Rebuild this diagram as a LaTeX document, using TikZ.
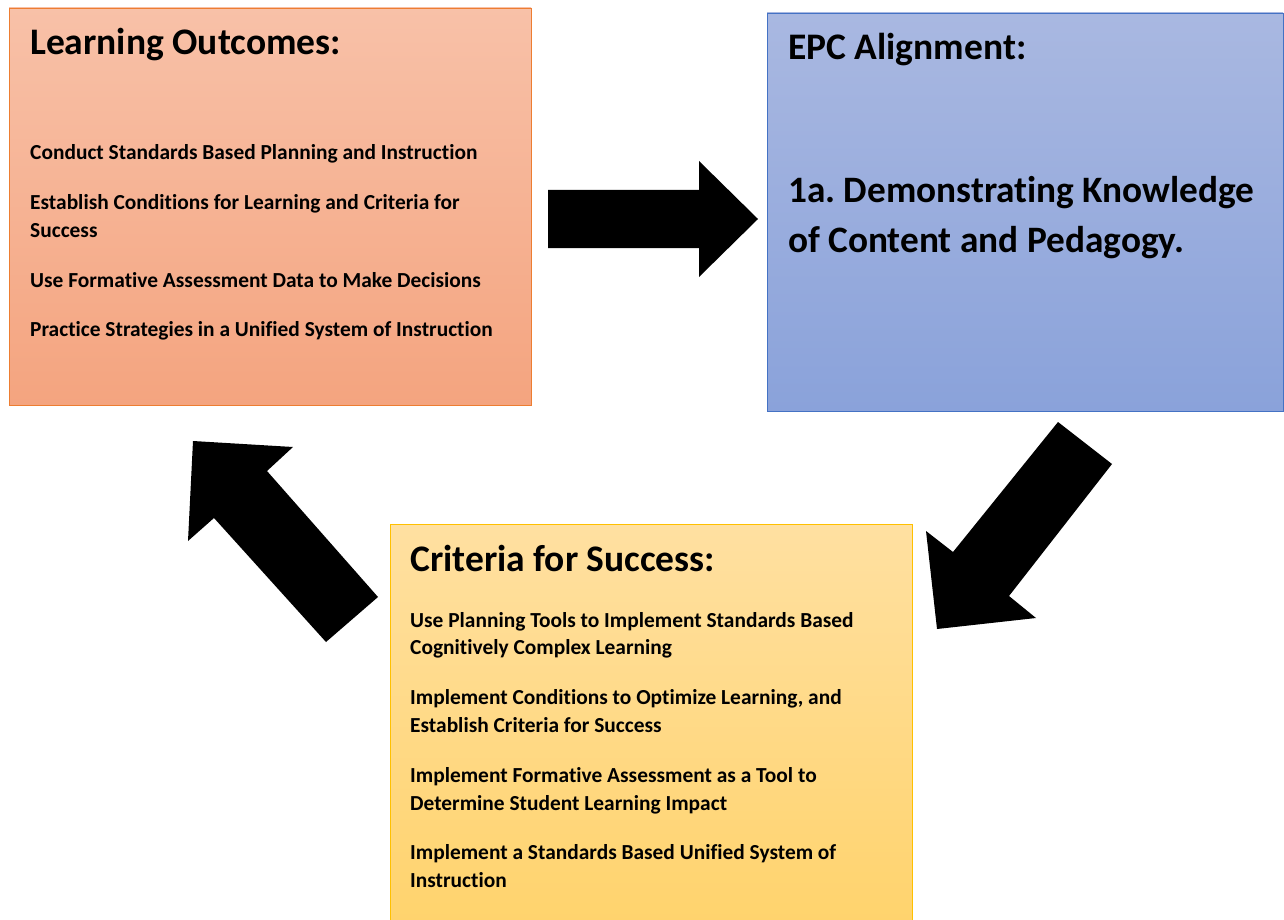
\documentclass[tikz,border=0pt]{standalone}
\usepackage{fontspec}
\setmainfont{Carlito}[Ligatures=NoCommon]
\frenchspacing

\definecolor{lotop}{HTML}{F8C1A8}
\definecolor{lobot}{HTML}{F4A47F}
\definecolor{loedge}{HTML}{ED7D31}
\definecolor{epctop}{HTML}{A9B8E1}
\definecolor{epcbot}{HTML}{8AA2DA}
\definecolor{epcedge}{HTML}{4472C4}
\definecolor{cstop}{HTML}{FFE0A1}
\definecolor{csbot}{HTML}{FFD36C}
\definecolor{csedge}{HTML}{FFC000}

\tikzset{
  box/.style={rectangle, line width=0.9pt, anchor=north west, inner sep=0pt, outer sep=0pt},
  title/.style={anchor=base west, inner sep=0pt, font=\bfseries\fontsize{37.5}{44}\selectfont},
  bigline/.style={anchor=base west, inner sep=0pt, font=\bfseries\fontsize{37.3}{44}\selectfont},
  item/.style={anchor=base west, inner sep=0pt, font=\bfseries\fontsize{21.4}{26}\selectfont},
  blockarrow/.style={fill=black}
}

\begin{document}
\begin{tikzpicture}[x=1pt,y=-1pt]
\useasboundingbox (0,0) rectangle (1284,920);

%cadre learning outcomes
\node[box, draw=loedge, top color=lotop, bottom color=lobot, minimum width=522pt, minimum height=397pt] (lo) at (9,8) {};
\node[title] (lotitle) at (30,55) {Learning Outcomes:};
\node[item] (lo1) at (30,160) {Conduct Standards Based Planning and Instruction};
\node[item] (lo2) at (30,209) {Establish Conditions for Learning and Criteria for};
\node[item] (lo2b) at (30,237) {Success};
\node[item] (lo3) at (30,287) {Use Formative Assessment Data to Make Decisions};
\node[item] (lo4) at (30,336) {Practice Strategies in a Unified System of Instruction};

%cadre epc
\node[box, draw=epcedge, top color=epctop, bottom color=epcbot, minimum width=516pt, minimum height=398pt] (epc) at (767,13) {};
\node[title] (epctitle) at (788,60) {EPC Alignment:};
\node[bigline] (epc1) at (788,202) {1a. Demonstrating Knowledge};
\node[bigline] (epc2) at (788,252) {of Content and Pedagogy.};

%cadre criteria
\node[box, draw=csedge, top color=cstop, bottom color=csbot, minimum width=522pt, minimum height=405pt] (cs) at (390,524) {};
\node[title] (cstitle) at (410,571) {Criteria for Success:};
\node[item] (cs1) at (410,627) {Use Planning Tools to Implement Standards Based};
\node[item] (cs1b) at (410,654) {Cognitively Complex Learning};
\node[item] (cs2) at (410,704) {Implement Conditions to Optimize Learning, and};
\node[item] (cs2b) at (410,732) {Establish Criteria for Success};
\node[item] (cs3) at (410,782) {Implement Formative Assessment as a Tool to};
\node[item] (cs3b) at (410,810) {Determine Student Learning Impact};
\node[item] (cs4) at (410,859) {Implement a Standards Based Unified System of};
\node[item] (cs4b) at (410,887) {Instruction};

%fleches
\fill[blockarrow] (548,190) -- (699,190) -- (699,161) -- (758,219) -- (699,277) -- (699,248) -- (548,248) -- cycle;
\fill[blockarrow] (1058,422) -- (953,552) -- (926,531) -- (937,629) -- (1036,618) -- (1009,596) -- (1112,464) -- cycle;
\fill[blockarrow] (193,441) -- (293,447) -- (267,471) -- (378,597) -- (326,642) -- (214,518) -- (188,541) -- cycle;

\end{tikzpicture}
\end{document}
